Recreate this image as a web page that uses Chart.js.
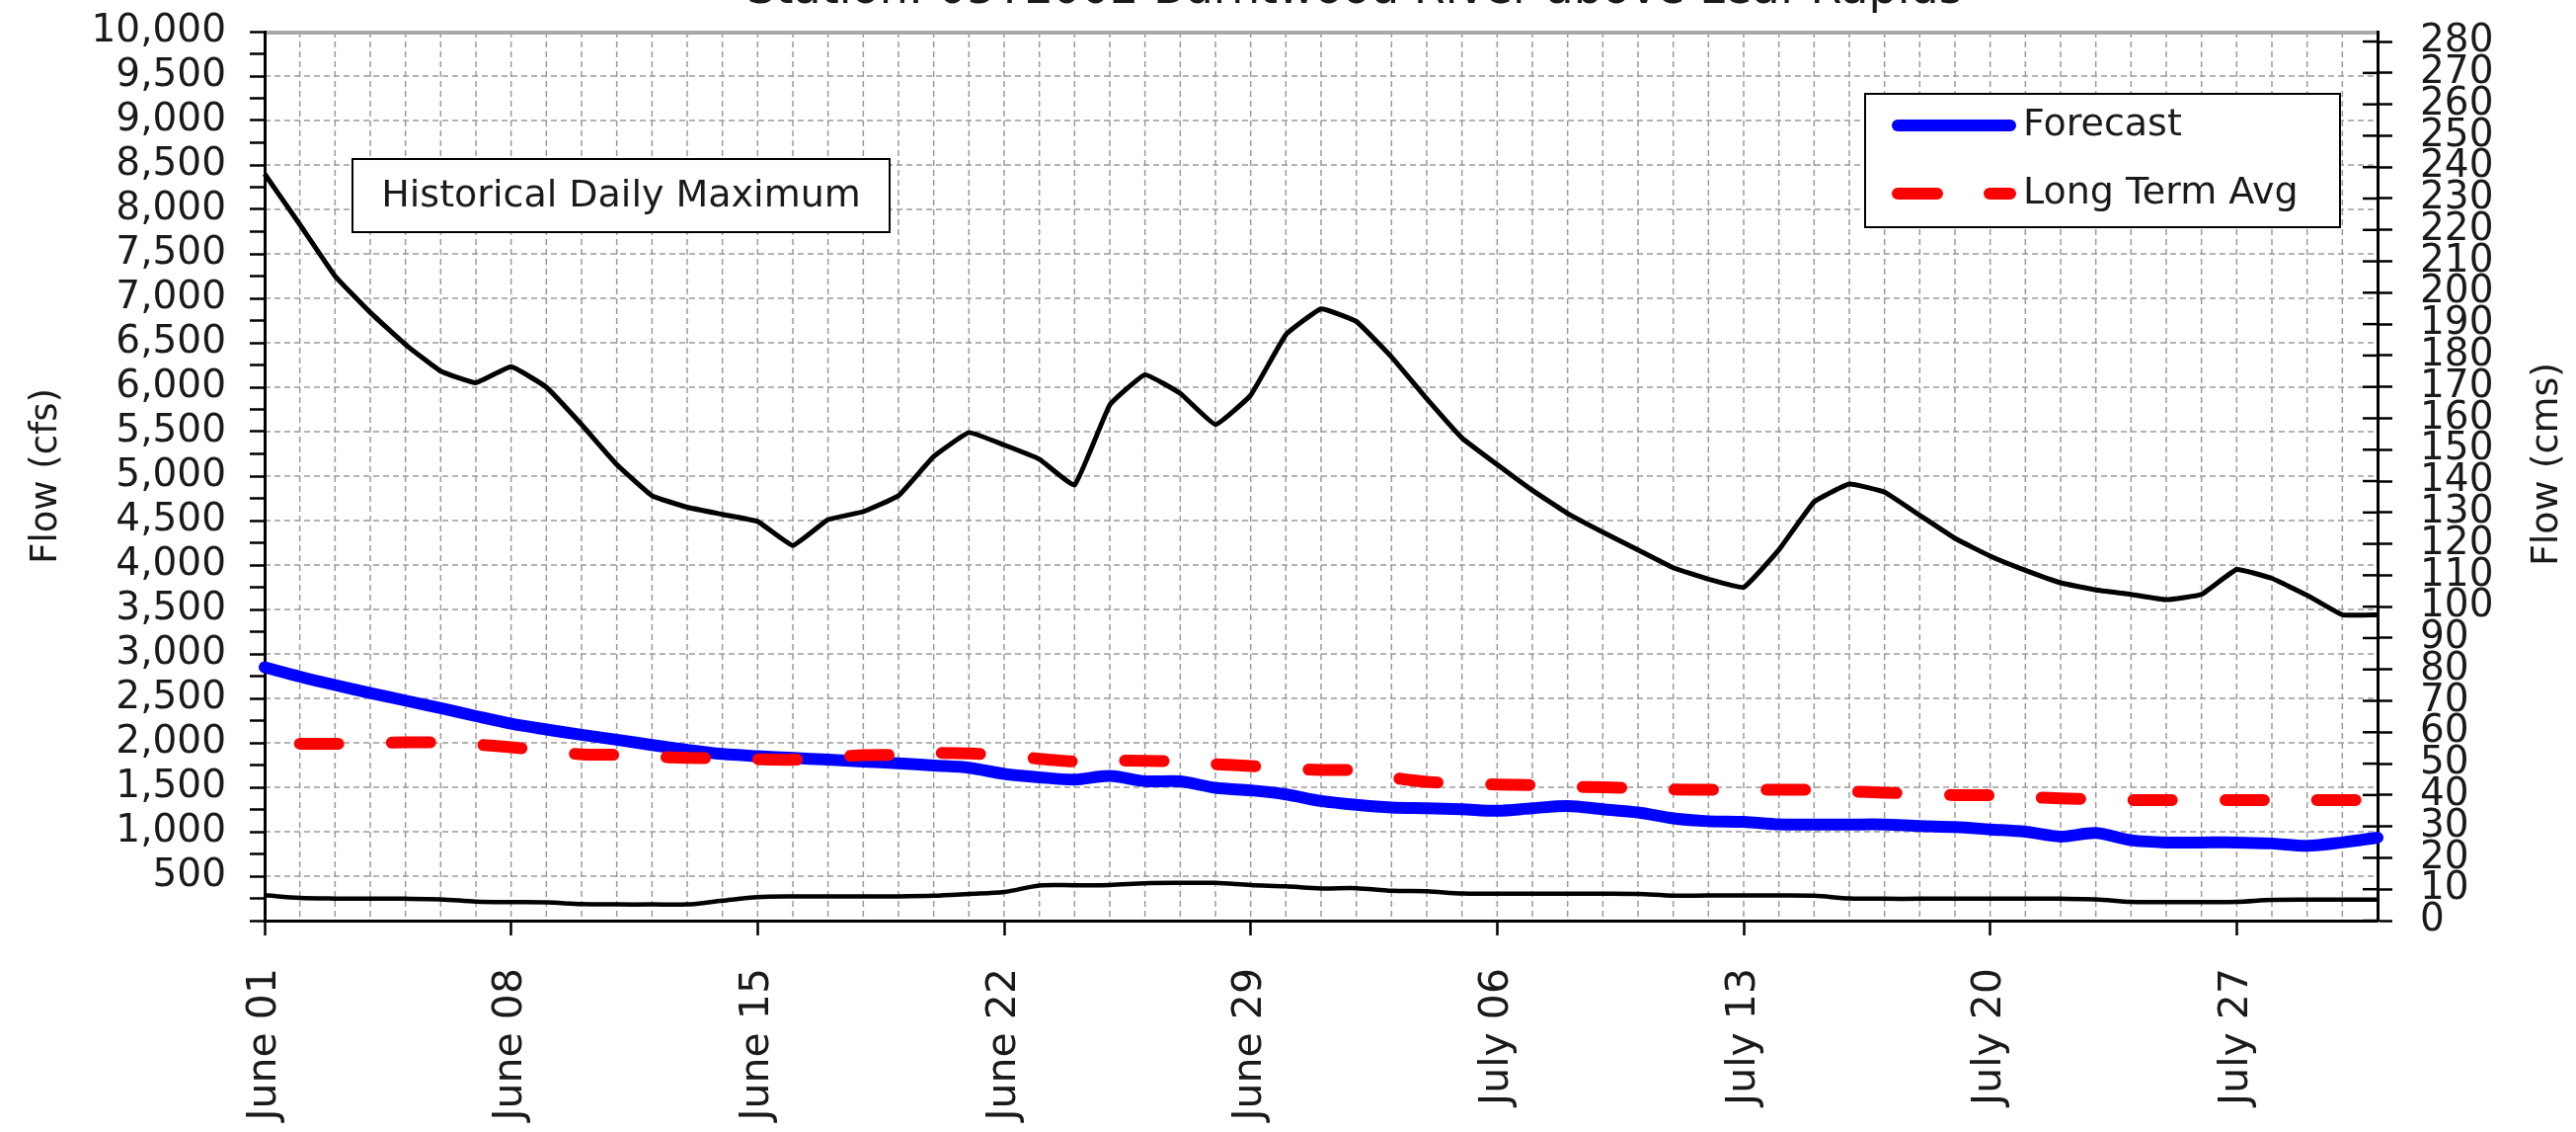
<!DOCTYPE html>
<html>
<head>
<meta charset="utf-8">
<script src="https://cdn.jsdelivr.net/npm/chart.js@4.4.1/dist/chart.umd.min.js"></script>
<style>
    html, body { margin: 0; padding: 0; background: #fff; }
    #wrap { width: 2609px; height: 1146px; position: relative; overflow: hidden; }
</style>
</head>
<body>
<div id="wrap"><canvas id="flowChart" width="2609" height="1146"></canvas></div>
<script>
// station + axis text
const stationTitle = "Station: 05TE002 Burntwood River above Leaf Rapids";
const leftAxisTitle = "Flow (cfs)";
const rightAxisTitle = "Flow (cms)";
const annotationText = "Historical Daily Maximum";

// one label per day, June 01 .. July 31
const days = [
    "June 01", "June 02", "June 03", "June 04", "June 05", "June 06", "June 07", "June 08", "June 09", "June 10",
    "June 11", "June 12", "June 13", "June 14", "June 15", "June 16", "June 17", "June 18", "June 19", "June 20",
    "June 21", "June 22", "June 23", "June 24", "June 25", "June 26", "June 27", "June 28", "June 29", "June 30",
    "July 01", "July 02", "July 03", "July 04", "July 05", "July 06", "July 07", "July 08", "July 09", "July 10",
    "July 11", "July 12", "July 13", "July 14", "July 15", "July 16", "July 17", "July 18", "July 19", "July 20",
    "July 21", "July 22", "July 23", "July 24", "July 25", "July 26", "July 27", "July 28", "July 29", "July 30",
    "July 31",
];

// flows in cfs
const histMax = [
    8400, 7830, 7250, 6840, 6480, 6180, 6050, 6230, 6000, 5580,
    5130, 4780, 4650, 4570, 4490, 4220, 4510, 4600, 4780, 5220,
    5490, 5350, 5190, 4900, 5800, 6140, 5930, 5580, 5910, 6590,
    6880, 6740, 6340, 5870, 5430, 5130, 4840, 4580, 4370, 4170,
    3970, 3840, 3750, 4170, 4710, 4910, 4820, 4560, 4300, 4100,
    3940, 3800, 3720, 3670, 3610, 3670, 3950, 3850, 3660, 3440,
    3440,
];
const histMin = [
    285, 255, 248, 246, 246, 240, 215, 208, 205, 185,
    182, 182, 182, 225, 265, 273, 273, 273, 273, 280,
    300, 322, 395, 398, 400, 420, 424, 424, 400, 386,
    362, 365, 335, 330, 305, 303, 303, 303, 303, 300,
    280, 284, 284, 284, 280, 250, 246, 246, 246, 246,
    246, 246, 240, 210, 208, 208, 210, 232, 235, 235,
    235,
];
const forecast = [
    2850, 2745, 2650, 2560, 2475, 2390, 2300, 2215, 2150, 2090,
    2035, 1975, 1920, 1875, 1850, 1830, 1810, 1790, 1770, 1745,
    1720, 1650, 1612, 1586, 1628, 1568, 1566, 1494, 1465, 1420,
    1346, 1302, 1272, 1264, 1253, 1236, 1264, 1290, 1253, 1216,
    1150, 1118, 1110, 1082, 1081, 1081, 1081, 1063, 1052, 1026,
    1000, 945, 985, 904, 879, 879, 879, 868, 842, 879,
    934,
];
const longTermAvg = [
    null, 1990, 1988, 1995, 2005, 2005, 1980, 1950, 1910, 1870,
    1865, 1845, 1830, 1825, 1815, 1810, 1835, 1860, 1865, 1885,
    1880, 1860, 1820, 1790, 1800, 1798, 1790, 1760, 1740, 1710,
    1695, 1690, 1610, 1560, 1545, 1530, 1525, 1505, 1500, 1490,
    1475, 1472, 1472, 1472, 1470, 1455, 1440, 1425, 1412, 1410,
    1390, 1375, 1365, 1355, 1355, 1355, 1355, 1355, 1355, 1355,
    1355,
];

const CFS_PER_CMS = 35.3147;
const FONT = "'DejaVu Sans', sans-serif";
const TEXT_COLOR = "#1a1a1a";

// dashed grid behind everything: one line per day, one per 500 cfs
const dashedGrid = {
    id: "dashedGrid",
    beforeDraw(chart) {
        const { ctx, chartArea: a, scales } = chart;
        ctx.save();
        ctx.strokeStyle = "#9a9a9a";
        ctx.lineWidth = 1.5;
        ctx.setLineDash([6, 4]);
        for (let i = 1; i < days.length - 1; i++) {
            const x = scales.x.getPixelForValue(i);
            ctx.beginPath();
            ctx.moveTo(x, a.top);
            ctx.lineTo(x, a.bottom);
            ctx.stroke();
        }
        for (let v = 500; v < 10000; v += 500) {
            const y = scales.y.getPixelForValue(v);
            ctx.beginPath();
            ctx.moveTo(a.left, y);
            ctx.lineTo(a.right, y);
            ctx.stroke();
        }
        // solid grey frame line along the top
        ctx.setLineDash([]);
        ctx.strokeStyle = "#a8a8a8";
        ctx.lineWidth = 4;
        ctx.beginPath();
        ctx.moveTo(a.left, a.top + 1);
        ctx.lineTo(a.right, a.top + 1);
        ctx.stroke();
        ctx.restore();
    },
};

// title (mostly cut off), right axis title, legend box, annotation box, inner half of right ticks
const overlays = {
    id: "overlays",
    afterDraw(chart) {
        const { ctx, chartArea: a, scales } = chart;
        ctx.save();

        ctx.fillStyle = TEXT_COLOR;
        ctx.font = "46px " + FONT;
        ctx.textAlign = "center";
        ctx.textBaseline = "alphabetic";
        ctx.fillText(stationTitle, 1372, 3);

        // right axis title reads bottom-to-top like the left one
        ctx.save();
        ctx.translate(2580, (a.top + a.bottom) / 2 - 12);
        ctx.rotate(-Math.PI / 2);
        ctx.font = "38px " + FONT;
        ctx.textBaseline = "middle";
        ctx.fillText(rightAxisTitle, 0, 0);
        ctx.restore();

        // right axis ticks cross the axis line
        ctx.strokeStyle = "#000";
        ctx.lineWidth = 2.5;
        scales.y2.ticks.forEach((t) => {
            const y = scales.y2.getPixelForValue(t.value);
            ctx.beginPath();
            ctx.moveTo(a.right - 15, y);
            ctx.lineTo(a.right, y);
            ctx.stroke();
        });

        // annotation box
        const bx = a.left + 89, by = a.top + 129, bw = 544, bh = 74;
        ctx.fillStyle = "#fff";
        ctx.fillRect(bx, by, bw, bh);
        ctx.strokeStyle = "#000";
        ctx.lineWidth = 2;
        ctx.strokeRect(bx, by, bw, bh);
        ctx.fillStyle = TEXT_COLOR;
        ctx.font = "38px " + FONT;
        ctx.textAlign = "center";
        ctx.textBaseline = "middle";
        ctx.fillText(annotationText, bx + bw / 2, by + bh / 2 + 1);

        // legend box
        const lx = a.right - 519, ly = a.top + 63, lw = 481, lh = 135;
        ctx.fillStyle = "#fff";
        ctx.fillRect(lx, ly, lw, lh);
        ctx.strokeRect(lx, ly, lw, lh);
        ctx.lineCap = "round";
        ctx.lineWidth = 12;
        ctx.strokeStyle = "#0000ff";
        ctx.beginPath();
        ctx.moveTo(lx + 33, ly + 32);
        ctx.lineTo(lx + 147, ly + 32);
        ctx.stroke();
        ctx.strokeStyle = "#ff0000";
        ctx.beginPath();
        ctx.moveTo(lx + 33, ly + 101);
        ctx.lineTo(lx + 73, ly + 101);
        ctx.moveTo(lx + 126, ly + 101);
        ctx.lineTo(lx + 147, ly + 101);
        ctx.stroke();
        ctx.fillStyle = TEXT_COLOR;
        ctx.textAlign = "left";
        ctx.fillText("Forecast", lx + 160, ly + 32);
        ctx.fillText("Long Term Avg", lx + 160, ly + 101);

        ctx.restore();
    },
};

const axisFont = { family: FONT, size: 39 };

// fix a vertical axis to a set width and stop it pushing the plot down
function fixWidth(width) {
    return (scale) => {
        scale.width = width;
        scale.paddingTop = 0;
        scale.paddingBottom = 0;
    };
}

new Chart(document.getElementById("flowChart"), {
    type: "line",
    data: {
        labels: days,
        datasets: [
            {
                label: "Long Term Avg",
                data: longTermAvg,
                borderColor: "#ff0000",
                borderWidth: 12,
                borderDash: [39, 54],
                borderCapStyle: "round",
                pointRadius: 0,
                tension: 0.2,
                order: 0,
            },
            {
                label: "Forecast",
                data: forecast,
                borderColor: "#0000ff",
                borderWidth: 12,
                borderCapStyle: "round",
                borderJoinStyle: "round",
                pointRadius: 0,
                tension: 0.3,
                order: 1,
            },
            {
                label: "Historical Daily Maximum",
                data: histMax,
                borderColor: "#000",
                borderWidth: 5,
                pointRadius: 0,
                tension: 0.1,
                order: 2,
            },
            {
                label: "Historical Daily Minimum",
                data: histMin,
                borderColor: "#000",
                borderWidth: 4.5,
                pointRadius: 0,
                tension: 0.3,
                order: 3,
            },
        ],
    },
    options: {
        responsive: false,
        animation: false,
        devicePixelRatio: 1,
        layout: { padding: { top: 32, left: 0, right: 0, bottom: 0 } },
        plugins: {
            legend: { display: false },
            tooltip: { enabled: false },
        },
        scales: {
            x: {
                type: "category",
                offset: false,
                grid: {
                    offset: false,
                    drawOnChartArea: false,
                    tickLength: 15,
                    tickWidth: 2.5,
                    tickColor: (ctx) => (ctx.index % 7 === 0 ? "#000" : "rgba(0,0,0,0)"),
                },
                border: { color: "#000", width: 3 },
                ticks: {
                    autoSkip: false,
                    minRotation: 90,
                    maxRotation: 90,
                    padding: 33,
                    color: TEXT_COLOR,
                    font: { family: FONT, size: 41 },
                    callback: (value, index) => (index % 7 === 0 ? days[index] : ""),
                },
                afterFit: (scale) => {
                    scale.height = 214;
                    scale.paddingLeft = 0;
                    scale.paddingRight = 0;
                },
            },
            y: {
                position: "left",
                min: 0,
                max: 10000,
                grid: { drawOnChartArea: false, tickLength: 15, tickWidth: 2.5, tickColor: "#000" },
                border: { color: "#000", width: 3 },
                ticks: {
                    stepSize: 250,
                    autoSkip: false,
                    padding: 24,
                    color: TEXT_COLOR,
                    font: axisFont,
                    callback: (v) => (v % 500 === 0 && v > 0 ? v.toLocaleString("en-US") : ""),
                },
                title: {
                    display: true,
                    text: leftAxisTitle,
                    color: TEXT_COLOR,
                    font: { family: FONT, size: 37 },
                    padding: { top: 25, bottom: 0 },
                },
                afterFit: fixWidth(268),
            },
            y2: {
                position: "right",
                min: 0,
                max: 10000 / CFS_PER_CMS,
                grid: { drawOnChartArea: false, tickLength: 15, tickWidth: 2.5, tickColor: "#000" },
                border: { color: "#000", width: 3 },
                ticks: {
                    stepSize: 10,
                    autoSkip: false,
                    includeBounds: false,
                    padding: 28,
                    color: TEXT_COLOR,
                    font: axisFont,
                },
                afterFit: fixWidth(201),
            },
        },
    },
    plugins: [dashedGrid, overlays],
});
</script>
</body>
</html>
